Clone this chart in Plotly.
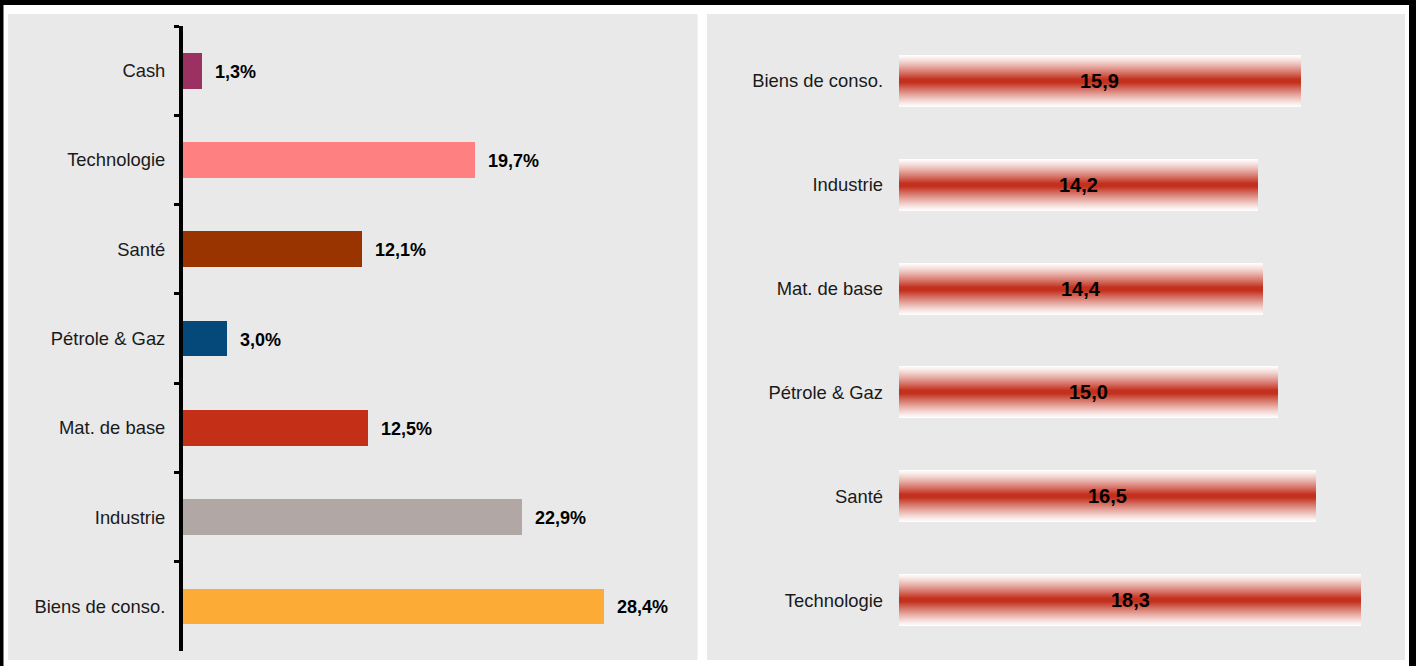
import plotly.graph_objects as go

# ---------------- data ----------------
alloc_categories = ["Cash", "Technologie", "Santé", "Pétrole & Gaz",
                    "Mat. de base", "Industrie", "Biens de conso."]
alloc_values = [1.3, 19.7, 12.1, 3.0, 12.5, 22.9, 28.4]
alloc_colors = ["#9B3161", "#FF8080", "#993300", "#05497A",
                "#C42F18", "#B1A8A5", "#FCAB37"]

per_categories = ["Biens de conso.", "Industrie", "Mat. de base",
                  "Pétrole & Gaz", "Santé", "Technologie"]
per_values = [15.9, 14.2, 14.4, 15.0, 16.5, 18.3]

W, H = 1416, 666
FONT = "Liberation Sans, Arial, sans-serif"
LABEL_SIZE = 18.4


def px_x(p):
    return p / W


def px_y(p):
    return 1 - p / H


def fmt(v, suffix=""):
    return f"{v:.1f}".replace(".", ",") + suffix


fig = go.Figure()

# ---------------- left: allocation bars ----------------
fig.add_trace(go.Bar(
    x=alloc_values, y=alloc_categories, orientation="h",
    marker=dict(color=alloc_colors, line=dict(width=0)),
    width=0.4, xaxis="x", yaxis="y", hoverinfo="skip", showlegend=False,
))

annotations = []
for c, v in zip(alloc_categories, alloc_values):
    annotations.append(dict(
        x=v, y=c, xref="x", yref="y", text=fmt(v, "%"), showarrow=False,
        xanchor="left", yanchor="middle", xshift=11, yshift=-1,
        font=dict(family=FONT, size=18, color="#000000", weight="bold"),
    ))

# ---------------- right: gradient bars (layered) ----------------
N = 26
red = (195, 48, 30)
for k in range(N):
    h_out = 1 - k / N
    h_mid = 1 - (k + 0.5) / N
    t = min(1.0, (1 - h_mid) ** 1.2 * 1.08)
    col = tuple(round(255 + (r - 255) * t) for r in red)
    fig.add_trace(go.Bar(
        x=per_values, y=per_categories, orientation="h",
        marker=dict(color=f"rgb{col}", line=dict(width=0)),
        width=0.5 * h_out, xaxis="x2", yaxis="y2",
        hoverinfo="skip", showlegend=False,
    ))

for c, v in zip(per_categories, per_values):
    annotations.append(dict(
        x=v / 2, y=c, xref="x2", yref="y2", text=fmt(v), showarrow=False,
        xanchor="center", yanchor="middle",
        font=dict(family=FONT, size=20, color="#000000", weight="bold"),
    ))

# ---------------- frame & panels ----------------
shapes = []
GRAY = "#E9E9E9"
shapes.append(dict(type="rect", xref="paper", yref="paper", layer="below",
                   x0=px_x(8), x1=px_x(697.5), y0=px_y(660), y1=px_y(14),
                   fillcolor=GRAY, line=dict(width=0)))
shapes.append(dict(type="rect", xref="paper", yref="paper", layer="below",
                   x0=px_x(707), x1=px_x(1405), y0=px_y(660), y1=px_y(14),
                   fillcolor=GRAY, line=dict(width=0)))
for x0, x1, y0, y1 in [(0, 3.5, 0, 666), (0, 1416, 0, 5), (1409, 1416, 0, 666)]:
    shapes.append(dict(type="rect", xref="paper", yref="paper", layer="above",
                       x0=px_x(x0), x1=px_x(x1), y0=px_y(y1), y1=px_y(y0),
                       fillcolor="#000000", line=dict(width=0)))

fig.update_layout(
    width=W, height=H,
    margin=dict(l=0, r=0, t=0, b=0),
    paper_bgcolor="#FFFFFF", plot_bgcolor="rgba(0,0,0,0)",
    barmode="overlay", bargap=0,
    font=dict(family=FONT, size=LABEL_SIZE, color="#1A1A1A"),
    shapes=shapes, annotations=annotations,
    xaxis=dict(domain=[px_x(183), px_x(690)], range=[0, 34.2],
               visible=False, fixedrange=True),
    yaxis=dict(domain=[px_y(651), px_y(26)], type="category",
               categoryorder="array", categoryarray=alloc_categories,
               autorange="reversed", anchor="x",
               showline=True, linecolor="#000000", linewidth=4,
               ticks="outside", ticklen=5, tickwidth=3, tickcolor="#000000",
               tickson="boundaries", showgrid=False, zeroline=False,
               ticklabelstandoff=10,
               tickfont=dict(family=FONT, size=LABEL_SIZE, color="#1A1A1A")),
    xaxis2=dict(domain=[px_x(899), px_x(899 + 25.27 * 20)], range=[0, 20],
                visible=False, fixedrange=True, anchor="y2"),
    yaxis2=dict(domain=[px_y(652), px_y(29)], type="category",
                categoryorder="array", categoryarray=per_categories,
                autorange="reversed", anchor="x2",
                showline=False, ticks="", showgrid=False, zeroline=False,
                ticklabelstandoff=15,
                tickfont=dict(family=FONT, size=LABEL_SIZE, color="#1A1A1A")),
)

fig.write_html("out.html")
